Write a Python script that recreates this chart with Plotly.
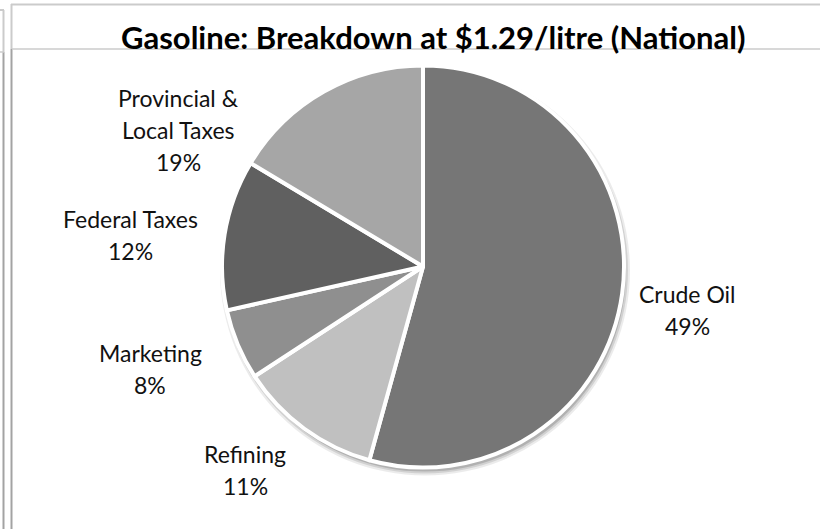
import plotly.graph_objects as go

# Data
categories = ["Crude Oil", "Refining", "Marketing", "Federal Taxes", "Provincial &<br>Local Taxes"]
slice_values = [54.3, 11.5, 5.7, 12.1, 16.4]          # visual slice sizes
label_percents = ["49%", "11%", "8%", "12%", "19%"]   # printed labels
colors = ["#767676", "#c0c0c0", "#8f8f8f", "#606060", "#a6a6a6"]
title_text = "Gasoline: Breakdown at $1.29/litre (National)"

W, H = 820, 529

def px(x):
    return x / W

def py(y):
    return 1 - y / H

cx, cy, r = 423, 266.5, 201

fig = go.Figure()
fig.add_trace(go.Pie(
    labels=[c.replace("<br>", " ") for c in categories],
    values=slice_values,
    sort=False,
    direction="clockwise",
    rotation=0,
    textinfo="none",
    hoverinfo="label+percent",
    marker=dict(colors=colors, line=dict(color="white", width=4)),
    domain=dict(x=[px(cx - r), px(cx + r)], y=[py(cy + r), py(cy - r)]),
    showlegend=False,
))

# label positions: (center x, first line y), in pixels
label_pos = [(687, 293), (245, 453), (150, 352), (130, 218), (178, 97)]
line_step = 32
FONT = "Lato, 'Open Sans', sans-serif"
annotations = []
for cat, pct, (lx, ly) in zip(categories, label_percents, label_pos):
    lines = cat.split("<br>") + [pct]
    for i, t in enumerate(lines):
        annotations.append(dict(
            x=px(lx), y=py(ly + i * line_step + 1), xref="paper", yref="paper",
            text=t, showarrow=False,
            xanchor="center", yanchor="middle", align="center",
            font=dict(family=FONT, size=23, color="#111111"),
        ))

annotations.append(dict(
    x=px(433), y=py(37), xref="paper", yref="paper",
    text=f"<b>{title_text}</b>", showarrow=False,
    xanchor="center", yanchor="middle",
    font=dict(family=FONT, size=31, color="#000000"),
))

light = "#cbcbcb"
dark = "#a3a3a3"
shapes = []
def line(x0, y0, x1, y1, color, width=2):
    shapes.append(dict(type="line", xref="paper", yref="paper",
                       x0=px(x0), y0=py(y0), x1=px(x1), y1=py(y1),
                       line=dict(color=color, width=width), layer="below"))

# pie shadow (soft, offset)
for off, op in [(6, 0.08), (4, 0.11), (2, 0.15)]:
    rr = r + off - 2
    shapes.append(dict(type="circle", xref="paper", yref="paper",
                       x0=px(cx + 2 - rr), x1=px(cx + 2 + rr),
                       y0=py(cy + 4 + rr), y1=py(cy + 4 - rr),
                       fillcolor=f"rgba(0,0,0,{op})", line=dict(width=0), layer="below"))

# main frame
line(11, 4.5, 820, 4.5, light)
line(11.5, 4, 11.5, 49, light)
line(11.5, 49, 11.5, 529, dark)
line(12, 49, 820, 49, light, 1.5)
# fragment of neighbouring frame
line(0, 10, 4, 10, light)
line(3.5, 10, 3.5, 52, light)
line(3.5, 52, 3.5, 529, dark)
line(0, 52, 4, 52, light, 1.5)

fig.update_layout(
    width=W, height=H,
    margin=dict(l=0, r=0, t=0, b=0),
    paper_bgcolor="white", plot_bgcolor="white",
    annotations=annotations,
    shapes=shapes,
)

fig.write_html("out.html",
               config={"displayModeBar": False},
               post_script="document.body.style.margin='0';document.body.style.overflow='hidden';")
